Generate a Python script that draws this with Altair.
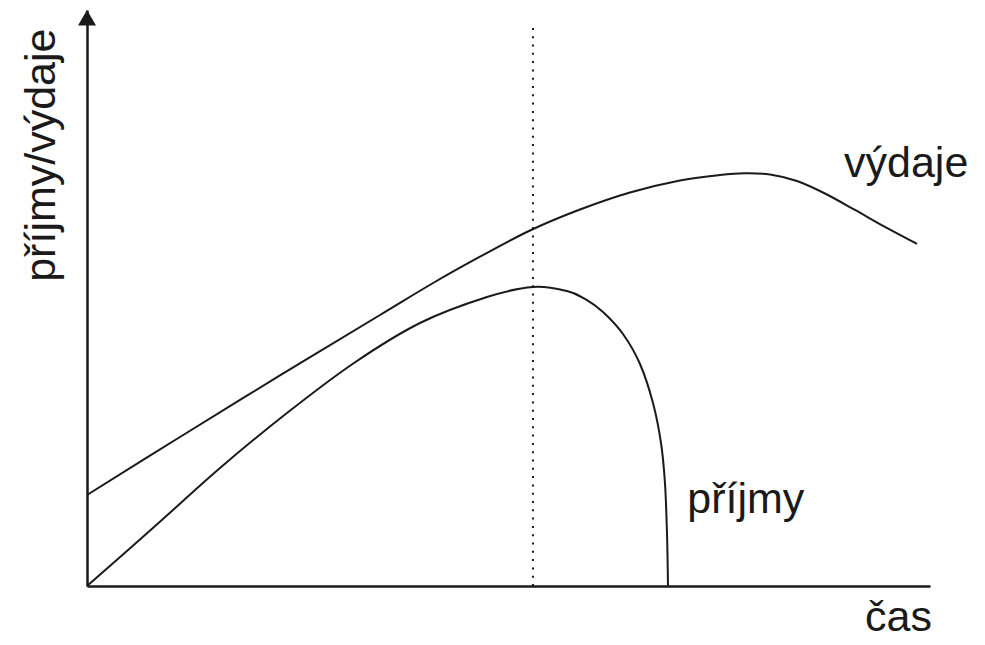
import altair as alt
import pandas as pd

# výdaje (expenses) curve
vydaje_x = [0.0, 11.03, 22.89, 34.76, 41.16, 46.62, 52.55, 58.48, 64.41, 70.34, 75.09, 78.06, 81.02, 84.22, 87.54, 91.10, 94.66, 98.46]
vydaje_y = [15.80, 25.87, 36.55, 47.05, 52.69, 57.17, 61.72, 65.36, 68.32, 70.40, 71.35, 71.65, 71.44, 70.31, 68.14, 65.28, 62.33, 59.38]

# příjmy (revenues) curve
prijmy_x = [0.0, 7.95, 15.78, 23.72, 31.67, 39.50, 47.45, 52.91, 56.94, 59.07, 61.21, 63.58, 65.60, 67.14, 68.09, 68.56, 68.80, 68.92]
prijmy_y = [0.0, 10.24, 20.49, 30.03, 38.72, 45.66, 50.17, 51.91, 51.22, 49.83, 47.57, 43.75, 38.54, 31.77, 24.83, 17.88, 9.20, 0.0]

# dotted marker line
marker_x = [52.9, 52.9]
marker_y = [0.0, 97.6]

# labels
label_text = ["výdaje", "příjmy", "čas"]
label_x = [89.8, 71.2, 92.3]
label_y = [71.0, 12.7, -7.8]

ytitle_text = ["příjmy/výdaje"]
ytitle_x = [-3.8]
ytitle_y = [74.8]

arrow_x = [0.0]
arrow_y = [98.65]

INK = "#1a1a1a"
FONT = "Liberation Sans"

xs = alt.Scale(domain=[0, 100], nice=False, zero=False)
ys = alt.Scale(domain=[0, 100], nice=False, zero=False)

ax_x = alt.Axis(ticks=False, labels=False, grid=False, title=None,
                domainColor=INK, domainWidth=2.5)
ax_y = alt.Axis(ticks=False, labels=False, grid=False, title=None,
                domainColor=INK, domainWidth=2.5)

df_v = pd.DataFrame({"x": vydaje_x, "y": vydaje_y})
df_p = pd.DataFrame({"x": prijmy_x, "y": prijmy_y})
df_m = pd.DataFrame({"x": marker_x, "y": marker_y})
df_l = pd.DataFrame({"x": label_x, "y": label_y, "t": label_text})
df_t = pd.DataFrame({"x": ytitle_x, "y": ytitle_y, "t": ytitle_text})
df_a = pd.DataFrame({"x": arrow_x, "y": arrow_y})

vyd = alt.Chart(df_v).mark_line(interpolate="cardinal", color=INK, strokeWidth=2, clip=False).encode(
    x=alt.X("x:Q", scale=xs, axis=ax_x), y=alt.Y("y:Q", scale=ys, axis=ax_y))
pri = alt.Chart(df_p).mark_line(interpolate="cardinal", color=INK, strokeWidth=2, clip=False).encode(
    x=alt.X("x:Q", scale=xs), y=alt.Y("y:Q", scale=ys))
mark = alt.Chart(df_m).mark_line(color=INK, strokeWidth=2, strokeDash=[2, 6.3], clip=False).encode(
    x=alt.X("x:Q", scale=xs), y=alt.Y("y:Q", scale=ys))
arrow = alt.Chart(df_a).mark_point(shape="triangle-up", filled=True, size=324, color=INK, opacity=1).encode(
    x=alt.X("x:Q", scale=xs), y=alt.Y("y:Q", scale=ys))
labels = alt.Chart(df_l).mark_text(font=FONT, fontSize=43, color=INK, align="left",
                                   baseline="alphabetic").encode(
    x=alt.X("x:Q", scale=xs), y=alt.Y("y:Q", scale=ys), text="t:N")
ytitle = alt.Chart(df_t).mark_text(font=FONT, fontSize=43, color=INK, align="center",
                                   baseline="alphabetic", angle=270).encode(
    x=alt.X("x:Q", scale=xs), y=alt.Y("y:Q", scale=ys), text="t:N")

chart = alt.layer(vyd, pri, mark, arrow, labels, ytitle).properties(
    width=843, height=576,
    autosize=alt.AutoSizeParams(type="none"),
    padding={"left": 79, "top": 2, "right": 40, "bottom": 50},
    background="white",
).configure_view(stroke=None)

chart.save("out.html", embed_options={"renderer": "svg", "actions": False})
